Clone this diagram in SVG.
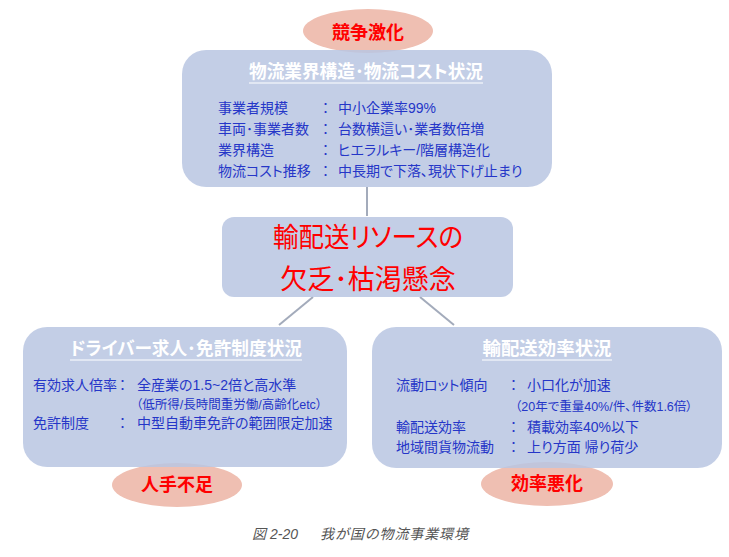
<svg xmlns="http://www.w3.org/2000/svg" width="729" height="557" viewBox="0 0 729 557">
<style>
text{font-family:"Liberation Sans","Noto Sans CJK JP",sans-serif}
.box{fill:#B8C6E2;fill-opacity:0.85}
.ell{fill:#EFBFB2}
.etxt{fill:#FF0000;font-size:18px;font-weight:bold;text-anchor:middle}
.title{fill:#FFFFFF;font-size:18px;font-weight:bold;text-anchor:middle;font-feature-settings:"palt"}
.ul{stroke:#FFFFFF;stroke-width:1.2}
.row{fill:#2536C8;font-size:14px;font-feature-settings:"palt"}
.sub{fill:#2536C8;font-size:12.5px;font-feature-settings:"palt"}
.ctr{fill:#FF0000;font-size:27px;text-anchor:middle;font-feature-settings:"palt"}
.conn{stroke:#A3ABBB;stroke-width:2;fill:none}
.cap{fill:#555555;font-style:italic;font-size:14px}
</style>
<rect width="729" height="557" fill="#FFFFFF"/>
<g id="connectors">
<line class="conn" x1="367" y1="187" x2="367" y2="216"/>
<line class="conn" x1="313" y1="297" x2="279" y2="325"/>
<line class="conn" x1="420" y1="297" x2="454" y2="325"/>
</g>
<g id="kyoso">
<ellipse class="ell" cx="368" cy="31" rx="65" ry="22"/>
<text class="etxt" x="368" y="39">競争激化</text>
</g>
<g id="structure">
<rect class="box" x="182" y="50" width="370" height="137" rx="24"/>
<text class="title" x="366" y="78" textLength="234" lengthAdjust="spacingAndGlyphs">物流業界構造･物流コスト状況</text>
<line class="ul" x1="249" y1="83" x2="483" y2="83"/>
<text class="row" x="218" y="113">事業者規模</text>
<text class="row" x="322" y="113">：</text>
<text class="row" x="338" y="113">中小企業率99%</text>
<text class="row" x="218" y="134">車両･事業者数</text>
<text class="row" x="322" y="134">：</text>
<text class="row" x="338" y="134">台数横這い･業者数倍増</text>
<text class="row" x="218" y="155">業界構造</text>
<text class="row" x="322" y="155">：</text>
<text class="row" x="338" y="155">ヒエラルキー/階層構造化</text>
<text class="row" x="218" y="176">物流コスト推移</text>
<text class="row" x="322" y="176">：</text>
<text class="row" x="338" y="176">中長期で下落、現状下げ止まり</text>
</g>
<g id="center">
<rect class="box" x="222" y="217" width="291" height="80" rx="12"/>
<text class="ctr" x="368" y="247" textLength="190" lengthAdjust="spacingAndGlyphs">輸配送リソースの</text>
<text class="ctr" x="368" y="289">欠乏･枯渇懸念</text>
</g>
<g id="jinde">
<ellipse class="ell" cx="177" cy="485" rx="65" ry="22"/>
</g>
<g id="driver">
<rect class="box" x="23" y="327" width="324" height="140" rx="24"/>
<text class="title" x="186" y="355" textLength="232" lengthAdjust="spacingAndGlyphs">ドライバー求人･免許制度状況</text>
<line class="ul" x1="70" y1="360" x2="302" y2="360"/>
<text class="row" x="33" y="390">有効求人倍率</text>
<text class="row" x="119" y="390">：</text>
<text class="row" x="137" y="390">全産業の1.5~2倍と高水準</text>
<text class="sub" x="136" y="409">（低所得/長時間重労働/高齢化etc）</text>
<text class="row" x="33" y="428">免許制度</text>
<text class="row" x="119" y="428">：</text>
<text class="row" x="137" y="428">中型自動車免許の範囲限定加速</text>
</g>
<g id="jinde-label">
<text class="etxt" x="177" y="491">人手不足</text>
</g>
<g id="koritsu">
<ellipse class="ell" cx="547" cy="484" rx="66" ry="22"/>
</g>
<g id="efficiency">
<rect class="box" x="372" y="327" width="350" height="141" rx="24"/>
<text class="title" x="547" y="355" textLength="129" lengthAdjust="spacingAndGlyphs">輸配送効率状況</text>
<line class="ul" x1="482" y1="360" x2="612" y2="360"/>
<text class="row" x="396" y="390">流動ロット傾向</text>
<text class="row" x="510" y="390">：</text>
<text class="row" x="527" y="390">小口化が加速</text>
<text class="sub" x="515" y="411">（20年で重量40%/件、件数1.6倍）</text>
<text class="row" x="396" y="432">輸配送効率</text>
<text class="row" x="510" y="432">：</text>
<text class="row" x="527" y="432">積載効率40%以下</text>
<text class="row" x="396" y="452">地域間貨物流動</text>
<text class="row" x="510" y="452">：</text>
<text class="row" x="527" y="452">上り方面 帰り荷少</text>
</g>
<g id="koritsu-label">
<text class="etxt" x="547" y="490">効率悪化</text>
</g>
<g id="caption">
<text class="cap" x="252" y="539">図</text>
<text class="cap" x="270" y="539">2-20</text>
<text class="cap" x="320" y="539" textLength="148" lengthAdjust="spacing">我が国の物流事業環境</text>
</g>
</svg>
